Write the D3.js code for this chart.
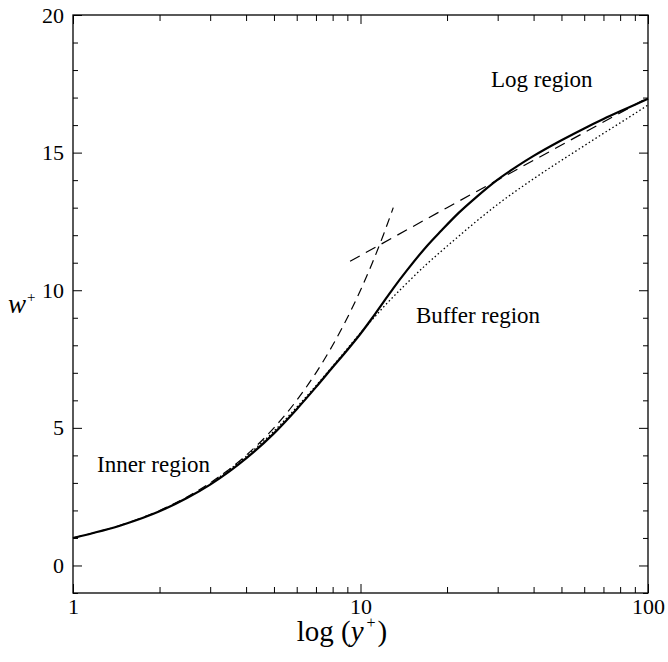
<!DOCTYPE html>
<html lang="en">
<head>
<meta charset="UTF-8">
<title>w+ profile</title>
<script src="https://d3js.org/d3.v7.min.js"></script>
<style>
  html, body { margin: 0; padding: 0; background: #fff; }
  text { font-family: "Liberation Serif", "DejaVu Serif", serif; fill: #000; }
</style>
</head>
<body>
<div id="chart"></div>
<script>
// solid profile
const yPlusSolid = [1, 1.5, 2, 2.5, 3, 3.5, 4, 5, 6, 7, 8, 9, 10, 11, 12, 13, 14.5, 17, 19, 22, 25, 30, 35, 40, 50, 60, 70, 80, 90, 100];
const wSolid     = [1.0, 1.49, 1.97, 2.46, 2.94, 3.42, 3.89, 4.8, 5.68, 6.48, 7.2, 7.83, 8.42, 9.0, 9.56, 10.07, 10.72, 11.6, 12.14, 12.82, 13.34, 14.02, 14.5, 14.88, 15.45, 15.88, 16.22, 16.5, 16.74, 16.96];
// dotted profile
const yPlusDotted = [3, 4, 5, 6, 7, 8, 9, 10, 11.4, 12, 14, 17, 19, 22, 25, 30, 40, 50, 60, 70, 80, 90, 100];
const wDotted     = [2.97, 3.96, 4.88, 5.75, 6.53, 7.24, 7.88, 8.45, 9.12, 9.38, 10.1, 10.95, 11.4, 11.97, 12.46, 13.12, 14.05, 14.72, 15.25, 15.7, 16.08, 16.42, 16.73];
// dashed: inner region
const yPlusInner = [1, 1.5, 2, 2.5, 3, 4, 5, 6, 7, 8, 9, 10, 11, 12, 13];
const wInner     = [1, 1.5, 2, 2.5, 3, 4, 5, 6, 7, 8, 9, 10, 11, 12, 13];
// dashed: log region
const yPlusLog = [9.2, 20, 40, 100];
const wLog     = [11.05, 13.0, 14.72, 17.0];

const xMajor = [1, 10, 100];
const xMinor = [2, 3, 4, 5, 6, 7, 8, 9, 20, 30, 40, 50, 60, 70, 80, 90];
const yMajor = [0, 5, 10, 15, 20];
const yMinor = [-1, 1, 2, 3, 4, 6, 7, 8, 9, 11, 12, 13, 14, 16, 17, 18, 19];

const width = 668;
const height = 662;
const margin = {top: 15, right: 20, bottom: 69, left: 73};
const w = width - margin.left - margin.right;
const h = height - margin.top - margin.bottom;

const x = d3.scaleLog().domain([1, 100]).range([0, w]);
const y = d3.scaleLinear().domain([-1, 20]).range([h, 0]);

const svg = d3.select('#chart').append('svg')
    .attr('width', width)
    .attr('height', height);
const g = svg.append('g').attr('transform', `translate(${margin.left},${margin.top})`);

// ticks on all four sides, pointing inward
const fmt = d => d;
const addAxis = (axis, tx, ty) => {
    const a = g.append('g').attr('transform', `translate(${tx},${ty})`).call(axis);
    a.select('.domain').remove();
    a.selectAll('line').attr('stroke', '#000').attr('stroke-width', 1);
    a.selectAll('text').style('font-size', '22px').style('font-family', '"Liberation Serif", serif');
    return a;
};
addAxis(d3.axisBottom(x).tickValues(xMajor).tickFormat(fmt).tickSize(-9).tickPadding(5), 0, h);
addAxis(d3.axisBottom(x).tickValues(xMinor).tickFormat('').tickSize(-6), 0, h);
addAxis(d3.axisTop(x).tickValues(xMajor).tickFormat('').tickSize(-9), 0, 0);
addAxis(d3.axisTop(x).tickValues(xMinor).tickFormat('').tickSize(-6), 0, 0);
addAxis(d3.axisLeft(y).tickValues(yMajor).tickFormat(fmt).tickSize(-9).tickPadding(9), 0, 0);
addAxis(d3.axisLeft(y).tickValues(yMinor).tickFormat('').tickSize(-5), 0, 0);
addAxis(d3.axisRight(y).tickValues(yMajor).tickFormat('').tickSize(-9), w, 0);
addAxis(d3.axisRight(y).tickValues(yMinor).tickFormat('').tickSize(-5), w, 0);

// frame
g.append('rect')
    .attr('width', w).attr('height', h)
    .attr('fill', 'none').attr('stroke', '#000').attr('stroke-width', 1.3);

const line = d3.line().x(d => x(d[0])).y(d => y(d[1])).curve(d3.curveMonotoneX);
const pairs = (a, b) => a.map((v, i) => [v, b[i]]);

g.append('path').datum(pairs(yPlusInner, wInner))
    .attr('d', line).attr('fill', 'none').attr('stroke', '#000')
    .attr('stroke-width', 1.2).attr('stroke-dasharray', '9,6');
g.append('path').datum(pairs(yPlusLog, wLog))
    .attr('d', line).attr('fill', 'none').attr('stroke', '#000')
    .attr('stroke-width', 1.2).attr('stroke-dasharray', '11,7');
g.append('path').datum(pairs(yPlusDotted, wDotted))
    .attr('d', line).attr('fill', 'none').attr('stroke', '#000')
    .attr('stroke-width', 1.3).attr('stroke-dasharray', '1.5,2.5');
g.append('path').datum(pairs(yPlusSolid, wSolid))
    .attr('d', line).attr('fill', 'none').attr('stroke', '#000')
    .attr('stroke-width', 2.2);

// region labels
const labels = [
    {text: 'Log region', x: 418, y: 72},
    {text: 'Buffer region', x: 343, y: 308},
    {text: 'Inner region', x: 24, y: 457}
];
g.selectAll('.region').data(labels).enter().append('text')
    .attr('class', 'region')
    .attr('x', d => d.x).attr('y', d => d.y)
    .style('font-size', '23px')
    .text(d => d.text);

// axis titles
const xt = svg.append('text')
    .attr('x', 342).attr('y', 641)
    .attr('text-anchor', 'middle')
    .style('font-size', '29px');
xt.append('tspan').text('log (');
xt.append('tspan').style('font-style', 'italic').text('y');
xt.append('tspan').attr('dy', -13).attr('dx', 3).style('font-size', '16px').text('+');
xt.append('tspan').attr('dy', 13).attr('dx', 2).text(')');

const yt = svg.append('text')
    .attr('x', 8).attr('y', 313)
    .style('font-size', '27px');
yt.append('tspan').style('font-style', 'italic').text('w');
yt.append('tspan').attr('dy', -11).attr('dx', 1).style('font-size', '15px').text('+');
</script>
</body>
</html>
